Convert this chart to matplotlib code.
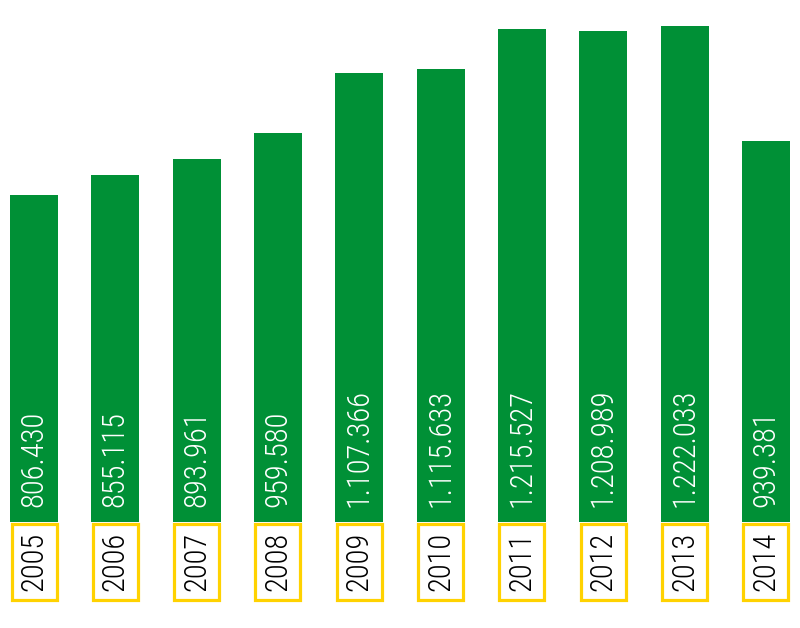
import matplotlib.pyplot as plt
from matplotlib.patches import Rectangle

years = ["2005", "2006", "2007", "2008", "2009", "2010", "2011", "2012", "2013", "2014"]
values = [806430, 855115, 893961, 959580, 1107366, 1115633, 1215527, 1208989, 1222033, 939381]
labels = ["806.430", "855.115", "893.961", "959.580", "1.107.366", "1.115.633",
          "1.215.527", "1.208.989", "1.222.033", "939.381"]

green = "#009036"
yellow = "#FFD200"
fam = ["Roboto Condensed", "Liberation Sans", "DejaVu Sans"]

fig = plt.figure(figsize=(8, 6.28), dpi=100)
ax = fig.add_axes([0, 0, 1, 1])

px = 1222033 / 496.0  # data units per pixel
ax.set_ylim(-(628 - 522) * px, 522 * px)
ax.set_xlim(-34 / 81.33, (800 - 34) / 81.33)
ax.axis("off")

w = 48 / 81.33
x = list(range(len(years)))
ax.bar(x, values, width=w, color=green, linewidth=0)

for i, (yr, lab) in enumerate(zip(years, labels)):
    # year box under the bar
    ax.add_patch(Rectangle((i - w / 2 + 1.5 / 81.33, -79 * px + 1.5 * px),
                           w - 3 / 81.33, 79 * px - 3 * px,
                           facecolor="white", edgecolor=yellow, linewidth=2.3))
    ax.text(i, -39.5 * px, yr, rotation=90, ha="center", va="center",
            fontsize=22, color="#000000", family=fam, fontweight="light")
    ax.text(i, 15 * px, lab, rotation=90, ha="center", va="bottom",
            fontsize=22, color="white", family=fam, fontweight="light")

fig.savefig("out.png", dpi=100)
